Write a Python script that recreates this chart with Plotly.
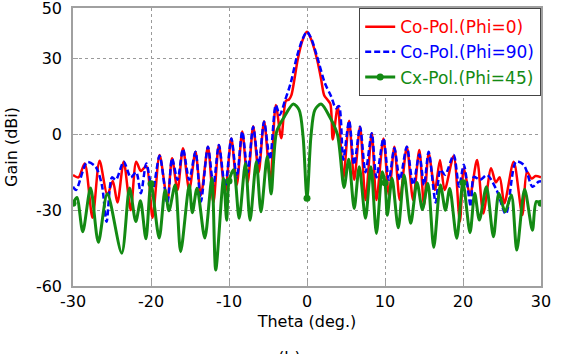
import plotly.graph_objects as go

# ---- data ----
theta_red = [-30.0, -29.3, -28.5, -27.5, -26.6, -25.6, -24.9, -24.3, -23.5, -22.6, -21.9, -21.3, -20.6, -19.8,
             -18.9, -17.9, -17.3, -16.6, -15.9, -15.1, -14.3, -13.6, -12.7, -12.0, -11.3, -10.5, -9.7, -9.0,
             -8.3, -7.6, -6.9, -6.2, -5.5, -4.7, -4.0, -3.3, -2.7, -2.3, -2.0, -1.6, -1.2, -0.6, 0.0,
             0.6, 1.3, 1.8, 2.2, 2.6, 3.0, 3.3, 3.95, 4.65, 5.4, 6.05, 6.8, 7.5, 8.3, 8.9, 9.8, 10.5,
             11.2, 11.9, 12.8, 13.6, 14.4, 15.0, 15.6, 16.4, 17.05, 17.65, 18.8, 19.6, 20.1, 20.9, 21.8,
             22.6, 23.6, 24.2, 24.7, 25.3, 26.5, 27.6, 28.2, 28.8, 29.3, 30.0]
gain_red = [-16.1, -17.0, -11.5, -33.0, -10.4, -24.0, -18.5, -27.0, -10.8, -30.0, -10.8, -14.5, -12.5, -33.0,
            -8.2, -26.0, -9.5, -22.0, -5.5, -22.0, -6.9, -24.0, -4.9, -27.0, -4.2, -23.0, -1.6, -20.0,
            1.1, -19.0, 3.2, -15.0, 5.2, -18.5, 11.6, -1.5, 13.3, 13.8, 15.5, 22.0, 29.4, 37.0, 40.6,
            37.0, 29.5, 22.0, 15.5, 13.8, 12.0, -2.0, 11.0, -17.4, 5.4, -18.0, 3.0, -26.0, 0.4, -26.0, -1.6, -24.0,
            -4.9, -26.0, -4.9, -26.0, -6.2, -28.0, -7.5, -22.0, -10.1, -22.0, -8.6, -34.5, -13.4, -24.0, -10.1,
            -31.3, -13.4, -19.0, -17.0, -27.3, -10.8, -31.9, -14.8, -17.5, -16.5, -17.0]

theta_blue = [-30.0, -29.6, -28.2, -27.1, -26.3, -25.7, -25.0, -24.5, -23.5, -22.6, -21.9, -21.3, -20.6, -19.8,
              -18.9, -17.9, -17.3, -16.6, -15.9, -15.1, -14.3, -13.6, -12.7, -12.0, -11.3, -10.5, -9.7, -9.0,
              -8.3, -7.6, -6.9, -6.2, -5.5, -4.75, -4.0, -3.5, -2.8, -2.1, -1.3, -0.6, 0.0,
              0.6, 1.3, 2.3, 3.1, 3.7, 4.1, 4.65, 5.4, 6.05, 6.8, 7.5, 8.3, 8.9, 9.8, 10.5,
              11.2, 11.9, 12.8, 13.6, 14.4, 15.0, 15.6, 16.5, 17.1, 17.7, 18.8, 19.5, 20.1, 21.0, 21.4,
              22.2, 23.1, 24.3, 25.5, 26.8, 27.8, 28.9, 29.7, 30.0]
gain_blue = [-20.7, -22.0, -11.0, -12.8, -20.0, -34.6, -17.0, -18.0, -10.8, -17.0, -15.0, -23.3, -11.5, -22.0,
             -8.5, -27.3, -9.5, -18.0, -5.8, -18.0, -6.9, -26.6, -4.9, -20.0, -4.2, -20.7, -1.6, -17.0,
             1.1, -15.0, 3.0, -12.0, 5.0, -10.0, 11.6, 7.7, 13.6, 20.2, 30.7, 37.5, 40.6,
             37.5, 30.7, 20.2, 15.0, 10.3, 11.2, -10.0, 5.4, -12.0, 3.0, -15.0, 0.4, -17.0, -1.6, -18.0,
             -5.5, -18.0, -4.9, -20.0, -8.0, -20.0, -6.9, -27.0, -14.0, -16.0, -8.2, -20.7, -12.0, -28.6, -16.8,
             -18.0, -16.1, -22.0, -31.5, -10.8, -12.1, -20.7, -18.7, -18.5]

theta_green = [-30.0, -29.5, -28.75, -27.75, -26.75, -25.6, -23.75, -22.75, -21.95, -21.35, -20.65, -20.0,
               -18.95, -18.2, -17.7, -16.9, -16.2, -15.1, -14.7, -14.1, -13.1, -12.2, -11.7, -10.7, -10.3,
               -10.0, -9.4, -8.7, -7.9, -7.3, -6.5, -5.9, -5.1, -4.6, -3.9, -2.9, -1.75, -1.0,
               -0.5, 0.0, 0.5, 1.0, 1.8, 2.9, 3.9, 4.75, 5.35, 6.05, 6.7, 7.5, 8.2,
               8.9, 9.65, 10.0, 10.3, 10.9, 11.7, 12.45, 13.3, 14.1, 14.8, 15.5, 16.25, 17.1, 17.75, 18.3,
               19.2, 20.0, 20.9, 21.5, 22.1, 23.0, 23.9, 24.6, 25.4, 26.2, 26.9, 27.9, 28.9, 29.4, 30.0]
gain_green = [-27.3, -25.0, -38.5, -21.2, -42.7, -23.5, -47.0, -21.2, -34.5, -26.3, -41.3, -19.5,
              -41.0, -22.0, -30.2, -20.0, -46.4, -20.0, -31.0, -21.3, -41.0, -17.4, -53.7, -17.4, -34.0,
              -18.5, -14.0, -33.2, -11.5, -34.0, -10.8, -30.6, -8.8, -23.6, 1.0, 7.0, 12.0, 9.6,
              -1.0, -25.3, -1.0, 9.6, 12.0, 7.0, 0.0, -21.0, -9.8, -29.3, -12.8, -33.2, -12.8,
              -39.2, -14.8, -19.1, -32.0, -17.4, -37.0, -16.1, -35.2, -19.0, -29.7, -19.4, -44.7, -20.0, -30.0, -21.4,
              -41.1, -19.1, -38.9, -23.3, -33.9, -20.7, -40.5, -23.3, -30.6, -24.0, -45.8, -21.7, -37.9, -26.6, -27.3]

x_ticks = [-30, -20, -10, 0, 10, 20, 30]
y_ticks = [-60, -30, 0, 30, 50]

RED = "#ff0000"
BLUE = "#0000ff"
GREEN = "#138a13"
FONT = "DejaVu Sans"

fig = go.Figure()
fig.add_trace(go.Scatter(
    x=theta_red, y=gain_red, mode="lines", line=dict(color=RED, width=2.5, shape="spline", smoothing=0.8),
    name="<span style='color:%s'>Co-Pol.(Phi=0)</span>" % RED))
fig.add_trace(go.Scatter(
    x=theta_blue, y=gain_blue, mode="lines",
    line=dict(color=BLUE, width=2.5, dash="6px,3px", shape="spline", smoothing=0.8),
    name="<span style='color:%s'>Co-Pol.(Phi=90)</span>" % BLUE))
fig.add_trace(go.Scatter(
    x=theta_green, y=gain_green, mode="lines", line=dict(color=GREEN, width=3, shape="spline", smoothing=0.8),
    showlegend=False))
mk_x = [t for t in theta_green if t in x_ticks]
mk_y = [g for t, g in zip(theta_green, gain_green) if t in x_ticks]
fig.add_trace(go.Scatter(
    x=mk_x, y=mk_y, mode="markers", marker=dict(color=GREEN, size=7), showlegend=False))
fig.add_trace(go.Scatter(
    x=[None], y=[None], mode="lines+markers", line=dict(color=GREEN, width=3), marker=dict(color=GREEN, size=7),
    name="<span style='color:%s'>Cx-Pol.(Phi=45)</span>" % GREEN))

axis_common = dict(
    showline=True, linecolor="#a0a0a0", linewidth=1.5, mirror=True,
    showgrid=True, gridcolor="#9a9a9a", griddash="dot", gridwidth=1,
    ticks="inside", ticklen=5, tickcolor="#a0a0a0",
    tickfont=dict(family=FONT, size=16, color="#000000"),
    zeroline=False, automargin=False, ticklabeloverflow="allow",
)
fig.update_xaxes(range=[-30, 30], tickvals=x_ticks, ticktext=[str(v) for v in x_ticks],
                 title=dict(text="Theta (deg.)", font=dict(family=FONT, size=16, color="#000"), standoff=6),
                 **axis_common)
fig.update_yaxes(range=[-60, 50], tickvals=y_ticks, ticktext=[str(v) for v in y_ticks],
                 ticklabelstandoff=6,
                 title=dict(text="Gain (dBi)", font=dict(family=FONT, size=16, color="#000"), standoff=14),
                 **axis_common)

fig.update_layout(
    width=562, height=354,
    margin=dict(l=73, r=21, t=8, b=68, autoexpand=False),
    paper_bgcolor="white", plot_bgcolor="white",
    font=dict(family=FONT, size=16, color="#000"),
    legend=dict(x=1, y=1, xanchor="right", yanchor="top", bgcolor="white",
                bordercolor="#444", borderwidth=1.2, font=dict(family=FONT, size=17),
                tracegroupgap=0, itemwidth=30),
    annotations=[dict(text="(b)", x=0.462, y=-0.215, xref="paper", yref="paper",
                      xanchor="center", yanchor="top", showarrow=False,
                      font=dict(family=FONT, size=16, color="#000"))],
)

fig.write_html("out.html")
